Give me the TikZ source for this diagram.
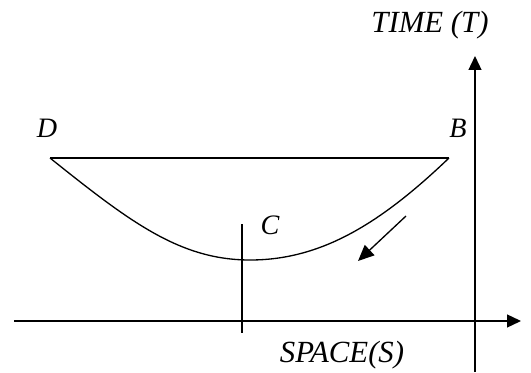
\documentclass[tikz,border=0pt]{standalone}
\usepackage{fontspec}
\setmainfont{Liberation Serif}
\usetikzlibrary{arrows.meta}

\begin{document}
\begin{tikzpicture}[
    axis/.style={line width=0.75pt, -{Triangle[length=0.28cm, width=0.26cm]}},
    lbl/.style={font=\fontsize{16}{18}\selectfont\itshape, inner sep=0pt},
    axlbl/.style={font=\fontsize{17.5}{20}\selectfont\itshape, inner sep=0pt},
    path/.style={line width=0.75pt}]
    \useasboundingbox (0,0) rectangle (10.62,7.44);

    \coordinate (sl) at (0.28,1.02);
    \coordinate (sr) at (10.42,1.02);
    \coordinate (tb) at (9.5,0);
    \coordinate (tt) at (9.5,6.32);
    \coordinate (d) at (1.00,4.28);
    \coordinate (b) at (8.98,4.28);
    \coordinate (c) at (5.00,2.24);
    \coordinate (ctop) at (4.84,2.96);
    \coordinate (cbot) at (4.84,0.78);
    \coordinate (mvs) at (8.12,3.12);
    \coordinate (mve) at (7.16,2.22);

    \node[lbl] (dlbl) at (0.94,4.88) {D};
    \node[lbl] (blbl) at (9.16,4.88) {B};
    \node[lbl] (clbl) at (5.40,2.94) {C};
    \node[axlbl] (time) at (8.60,6.94) {TIME (T)};
    \node[axlbl] (space) at (6.84,0.34) {SPACE(S)};

    \draw[axis] (sl) -- (sr);
    \draw[axis] (tb) -- (tt);
    \draw[path] (d) -- (b);
    \draw[path] (d) .. controls (2.6,3.0) and (3.6,2.24) .. (c)
                    .. controls (6.4,2.24) and (7.58,2.94) .. (b);
    \draw[path] (ctop) -- (cbot);
    \draw[line width=0.75pt, -{Triangle[length=0.32cm, width=0.28cm]}] (mvs) -- (mve);
\end{tikzpicture}
\end{document}
